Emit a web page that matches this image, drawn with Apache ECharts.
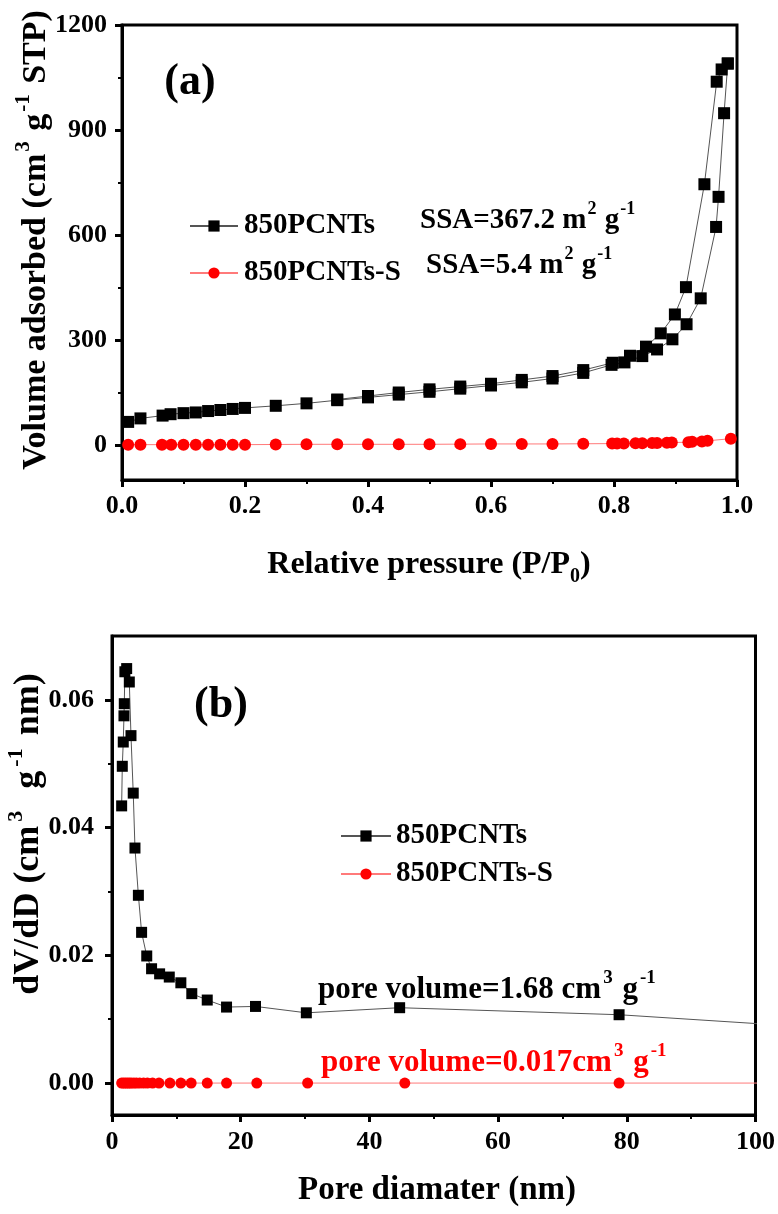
<!DOCTYPE html>
<html>
<head>
<meta charset="utf-8">
<script src="https://cdn.jsdelivr.net/npm/echarts/dist/echarts.min.js"></script>
<style>
html,body{margin:0;padding:0;background:#fff;}
#c{width:778px;height:1214px;}
</style>
</head>
<body>
<div id="c"></div>
<script>
// ---------- DATA ----------
// (a) N2 isotherms
var pAds = [0.01,0.03,0.066,0.079,0.10,0.12,0.14,0.16,0.18,0.20,0.25,0.30,0.35,0.40,0.45,0.50,0.55,0.60,0.65,0.70,0.75,0.796,0.817,0.846,0.870,0.895,0.918,0.941,0.966,0.970,0.979,0.985];
var vAds = [66,76,84,88,91,93,97,100,103,106,112,119,128,136,144,152,161,170,179,190,206,229,236,254,273,302,345,419,623,709,948,1090];
var pDes = [0.985,0.975,0.967,0.947,0.917,0.899,0.876,0.852,0.826,0.798,0.75,0.70,0.65,0.60,0.55,0.50,0.45,0.40,0.35];
var vDes = [1090,1073,1038,745,451,373,319,281,255,235,214,197,186,175,167,159,150,140,130];
var pS = [0.01,0.03,0.065,0.08,0.10,0.12,0.14,0.16,0.18,0.20,0.25,0.30,0.35,0.40,0.45,0.50,0.55,0.60,0.65,0.70,0.75,0.797,0.805,0.816,0.835,0.846,0.862,0.870,0.886,0.894,0.921,0.927,0.943,0.952,0.99];
var vS = [1,1,1,1,1,1,1,1,1,1,1.5,2,2,2,2,2,2.5,3,3,3,3.5,4,4,4.5,5,5,6,6,6.5,7,8,9,10,12,18];
// (b) pore size distributions
var dB = [1.5,1.6,1.75,1.86,1.91,2.0,2.28,2.69,2.95,3.3,3.57,4.1,4.6,5.4,6.15,7.4,8.9,10.7,12.4,14.8,17.8,22.3,30.2,44.7,78.8,125];
var vB = [0.0434,0.0496,0.0534,0.0575,0.0594,0.0644,0.0649,0.0628,0.0544,0.0454,0.0368,0.0294,0.0236,0.0199,0.0179,0.0171,0.0166,0.0157,0.0140,0.0130,0.0119,0.0120,0.0110,0.0118,0.0107,0.0077];
var dS = [1.5,1.8,2.1,2.4,2.7,3.0,3.4,3.8,4.3,4.9,5.5,6.3,7.3,9.0,10.7,12.3,14.8,17.8,22.5,30.4,45.5,78.8,125];
var vS2 = [0,0,0,0,0,0,0,0,0,0,0,0,0,0,0,0,0,0,0,0,0,0,0];
// ticks
var yTicksA = [0,300,600,900,1200];
var yMinorA = [150,450,750,1050];
var yTicksB = [0,0.02,0.04,0.06];
var yMinorB = [0.01,0.03,0.05];
var names = ['850PCNTs','850PCNTs-S'];

function zip(a,b){return a.map(function(v,i){return [v,b[i]];});}

var FF = '"Liberation Serif","Times New Roman",serif';
var chart = echarts.init(document.getElementById('c'));

function richText(fs, color, supPad){
  var p = supPad || 0;
  return {
    t:{fontSize:fs,fontWeight:'bold',fontFamily:FF,fill:color,color:color,lineHeight:fs+12},
    s:{fontSize:Math.round(fs*0.62),fontWeight:'bold',fontFamily:FF,fill:color,color:color,lineHeight:Math.round(fs*0.62),verticalAlign:'top',padding:[0,p,0,p]},
    b:{fontSize:Math.round(fs*0.62),fontWeight:'bold',fontFamily:FF,fill:color,color:color,lineHeight:Math.round(fs*0.62),verticalAlign:'bottom'}
  };
}
function gtext(x,y,txt,fs,color,rot,align,supPad){
  return {type:'text',x:x,y:y,rotation:rot||0,z:100,
    style:{text:txt,rich:richText(fs,color,supPad),align:align||'center',verticalAlign:'middle',fill:color,
      fontSize:fs,fontWeight:'bold',fontFamily:FF}};
}

var axisLineS = {show:true,onZero:false,lineStyle:{color:'#000',width:3}};
var labelS = {color:'#000',fontSize:26,fontWeight:'bold',fontFamily:FF};

var blackLine = {color:'#555',width:1};
var redLine = {color:'#ff7a7a',width:1};

var option = {
  animation:false,
  backgroundColor:'#fff',
  grid:[
    {left:122,top:25,width:615,height:455,show:true,borderColor:'#000',borderWidth:3,backgroundColor:'transparent'},
    {left:112,top:636,width:645,height:479,show:true,borderColor:'#000',borderWidth:3,backgroundColor:'transparent'}
  ],
  xAxis:[
    {gridIndex:0,type:'value',min:0,max:1,interval:0.2,
     axisLine:axisLineS,axisTick:{show:true,inside:false,length:7,lineStyle:{width:3,color:'#000'}},
     minorTick:{show:true,splitNumber:2,length:4,lineStyle:{width:2,color:'#000'}},
     splitLine:{show:false},
     axisLabel:Object.assign({margin:13,formatter:function(v){return v.toFixed(1);}},labelS)},
    {gridIndex:1,type:'value',min:0,max:100,interval:20,
     axisLine:axisLineS,axisTick:{show:true,inside:false,length:7,lineStyle:{width:3,color:'#000'}},
     minorTick:{show:true,splitNumber:2,length:4,lineStyle:{width:2,color:'#000'}},
     splitLine:{show:false},
     axisLabel:Object.assign({margin:14,formatter:function(v){return String(v);}},labelS)}
  ],
  yAxis:[
    {gridIndex:0,type:'value',position:'left',min:-100,max:1200,
     axisLine:axisLineS,
     axisTick:{show:true,length:7,lineStyle:{width:3,color:'#000'},customValues:yTicksA},
     splitLine:{show:false},
     axisLabel:Object.assign({margin:15,customValues:yTicksA,formatter:function(v){return String(v);}},labelS)},
    {gridIndex:0,type:'value',position:'left',min:-100,max:1200,
     axisLine:{show:false,onZero:false},
     axisTick:{show:true,length:4,lineStyle:{width:2,color:'#000'},customValues:yMinorA},
     splitLine:{show:false},axisLabel:{show:false}},
    {gridIndex:1,type:'value',position:'left',min:-0.005,max:0.07,
     axisLine:axisLineS,
     axisTick:{show:true,length:7,lineStyle:{width:3,color:'#000'},customValues:yTicksB},
     splitLine:{show:false},
     axisLabel:Object.assign({margin:18,customValues:yTicksB,formatter:function(v){return v.toFixed(2);}},labelS)},
    {gridIndex:1,type:'value',position:'left',min:-0.005,max:0.07,
     axisLine:{show:false,onZero:false},
     axisTick:{show:true,length:4,lineStyle:{width:2,color:'#000'},customValues:yMinorB},
     splitLine:{show:false},axisLabel:{show:false}}
  ],
  legend:[
    {orient:'vertical',left:184,top:203,itemWidth:48,itemHeight:14,itemGap:11,
     data:names,textStyle:{color:'#000',fontSize:29,fontWeight:'bold',fontFamily:FF,lineHeight:36,padding:[0,0,0,1]}},
    {orient:'vertical',left:335,top:813,itemWidth:50,itemHeight:14,itemGap:2,
     data:names,textStyle:{color:'#000',fontSize:29,fontWeight:'bold',fontFamily:FF,lineHeight:36,padding:[0,0,0,0]}}
  ],
  series:[
    {name:names[0],type:'line',xAxisIndex:0,yAxisIndex:0,data:zip(pAds,vAds),symbol:'rect',symbolSize:12,
     itemStyle:{color:'#000'},lineStyle:blackLine,z:3},
    {name:names[0],type:'line',xAxisIndex:0,yAxisIndex:0,data:zip(pDes,vDes),symbol:'rect',symbolSize:12,
     itemStyle:{color:'#000'},lineStyle:blackLine,z:3},
    {name:names[1],type:'line',xAxisIndex:0,yAxisIndex:0,data:zip(pS,vS),symbol:'circle',symbolSize:12,
     itemStyle:{color:'#ff0000'},lineStyle:redLine,z:3},
    {name:names[0],type:'line',xAxisIndex:1,yAxisIndex:2,data:zip(dB,vB),symbol:'rect',symbolSize:11,
     itemStyle:{color:'#000'},lineStyle:blackLine,z:3},
    {name:names[1],type:'line',xAxisIndex:1,yAxisIndex:2,data:zip(dS,vS2),symbol:'circle',symbolSize:11,
     itemStyle:{color:'#ff0000'},lineStyle:redLine,z:3}
  ],
  graphic:[
    gtext(190,83,'(a)',44,'#000'),
    gtext(221,706,'(b)',44,'#000'),
    gtext(36,240,'{t|Volume adsorbed (cm}{s|3}{t| g}{s|-1}{t| STP)}',34,'#000',Math.PI/2,'center',2),
    gtext(429,565,'{t|Relative pressure (P/P}{b|0}{t|)}',32,'#000'),
    gtext(29,834,'{t|dV/dD (cm}{s|3}{t|  g}{s|-1}{t| nm)}',36,'#000',Math.PI/2,'center',4),
    gtext(437,1190,'{t|Pore diamater (nm)}',33,'#000'),
    gtext(420,221,'{t|SSA=367.2 m}{s|2}{t| g}{s|-1}',29,'#000',0,'left',1),
    gtext(426,266,'{t|SSA=5.4 m}{s|2}{t| g}{s|-1}',29,'#000',0,'left',1),
    gtext(318,990,'{t|pore volume=1.68 cm}{s|3}{t| g}{s|-1}',31,'#000',0,'left',2),
    gtext(321,1063,'{t|pore volume=0.017cm}{s|3}{t| g}{s|-1}',31,'#ff0000',0,'left',2)
  ]
};
chart.setOption(option);
</script>
</body>
</html>
